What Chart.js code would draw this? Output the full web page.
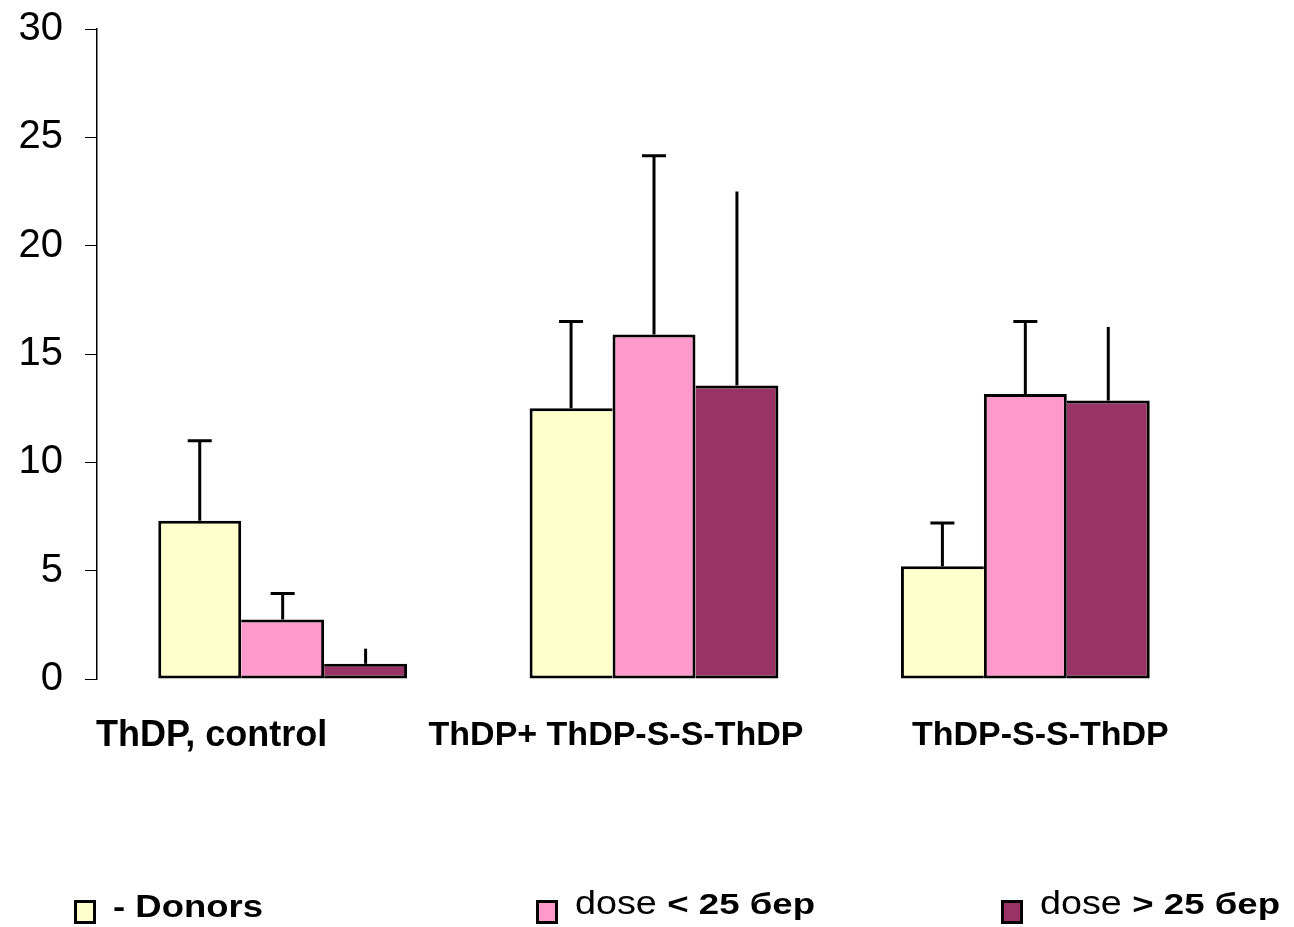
<!DOCTYPE html>
<html>
<head>
<meta charset="utf-8">
<script src="https://cdn.jsdelivr.net/npm/chart.js@4.4.1/dist/chart.umd.min.js"></script>
<style>
  html, body { margin: 0; padding: 0; background: #fff; }
  #wrap { width: 1294px; height: 927px; }
</style>
</head>
<body>
<div id="wrap"><canvas id="grafico" width="1294" height="927"></canvas></div>
<script>
// dados
const categorias = ['ThDP, control', 'ThDP+ ThDP-S-S-ThDP', 'ThDP-S-S-ThDP'];

const donors = [7.3, 12.5, 5.2];
const donorsErr = [3.7, 4.0, 2.0];

const doseMenor = [2.75, 15.9, 13.15];
const doseMenorErr = [1.2, 8.25, 3.35];

const doseMaior = [0.7, 13.55, 12.85];
const doseMaiorErr = [0.7, 8.95, 3.4];

const yMin = 0;
const yMax = 30;
const yPasso = 5;

// legenda: parte normal + parte em negrito
const legendaNormal = ['', 'dose ', 'dose '];
const legendaNegrito = ['- Donors', '< 25 бер', '> 25 бер'];

const FONTE = '"Liberation Sans", Arial, sans-serif';

// borda de 3px sem dobrar nas barras encostadas
function bordas(ctx) {
    var ds = ctx.chart.data.datasets;
    var i = ctx.datasetIndex;
    var j = ctx.dataIndex;
    var v = ds[i].data[j];
    var esq = 3, dir = 3;
    if (i > 0 && ds[i - 1].data[j] >= v) esq = 0;
    if (i < ds.length - 1 && ds[i + 1].data[j] > v) dir = 0;
    return { top: 3, bottom: 3, left: esq, right: dir };
}

// texto esticado na horizontal (a legenda original está mais larga)
function textoLargo(ctx, txt, x, y, fonte, esc) {
    ctx.save();
    ctx.font = fonte;
    ctx.translate(x, y);
    ctx.scale(esc, 1);
    ctx.fillText(txt, 0, 0);
    var w = ctx.measureText(txt).width * esc;
    ctx.restore();
    return w;
}

const barrasErro = {
    id: 'barrasErro',
    afterDatasetsDraw(chart) {
        const ctx = chart.ctx;
        const y = chart.scales.y;
        ctx.save();
        ctx.strokeStyle = '#000';
        ctx.lineWidth = 3;
        chart.data.datasets.forEach(function (ds, i) {
            const meta = chart.getDatasetMeta(i);
            meta.data.forEach(function (bar, j) {
                const topo = y.getPixelForValue(ds.data[j] + ds.erros[j]);
                ctx.beginPath();
                ctx.moveTo(bar.x, bar.y);
                ctx.lineTo(bar.x, topo);
                if (ds.comCapa) {
                    ctx.moveTo(bar.x - 12, topo);
                    ctx.lineTo(bar.x + 12, topo);
                }
                ctx.stroke();
            });
        });
        ctx.restore();
    }
};

const rotulosX = {
    id: 'rotulosX',
    afterDraw(chart) {
        const ctx = chart.ctx;
        const x = chart.scales.x;
        const desloc = [-71, -38, 15];
        const tam = [36, 34, 34];
        const base = [746, 745, 745];
        ctx.save();
        ctx.fillStyle = '#000';
        ctx.textAlign = 'center';
        ctx.textBaseline = 'alphabetic';
        categorias.forEach(function (c, i) {
            ctx.font = 'bold ' + tam[i] + 'px ' + FONTE;
            ctx.fillText(c, x.getPixelForValue(i) + desloc[i], base[i]);
        });
        ctx.restore();
    }
};

const legenda = {
    id: 'legenda',
    afterDraw(chart) {
        const ctx = chart.ctx;
        const caixaX = [74, 536, 1001];
        const base = [917, 914, 914];
        ctx.save();
        ctx.textBaseline = 'alphabetic';
        chart.data.datasets.forEach(function (ds, i) {
            const bx = caixaX[i];
            ctx.fillStyle = '#000';
            ctx.fillRect(bx, 900, 22, 24);
            ctx.fillStyle = ds.backgroundColor;
            ctx.fillRect(bx + 3, 903, 16, 18);
            ctx.fillStyle = '#000';
            let tx = bx + 39;
            if (legendaNormal[i]) {
                tx += textoLargo(ctx, legendaNormal[i], tx, base[i], '34px ' + FONTE, 1.11);
                textoLargo(ctx, legendaNegrito[i], tx, base[i], 'bold 30px ' + FONTE, 1.22);
            } else {
                textoLargo(ctx, legendaNegrito[i], tx, base[i], 'bold 32px ' + FONTE, 1.14);
            }
        });
        ctx.restore();
    }
};

const grafico = new Chart(document.getElementById('grafico'), {
    type: 'bar',
    data: {
        labels: categorias,
        datasets: [
            {
                label: legendaNegrito[0],
                data: donors,
                erros: donorsErr,
                comCapa: true,
                backgroundColor: '#FFFFCC',
                borderColor: '#000',
                borderWidth: bordas,
                borderSkipped: false
            },
            {
                label: legendaNormal[1] + legendaNegrito[1],
                data: doseMenor,
                erros: doseMenorErr,
                comCapa: true,
                backgroundColor: '#FF99CC',
                borderColor: '#000',
                borderWidth: bordas,
                borderSkipped: false
            },
            {
                label: legendaNormal[2] + legendaNegrito[2],
                data: doseMaior,
                erros: doseMaiorErr,
                comCapa: false,
                backgroundColor: '#993366',
                borderColor: '#000',
                borderWidth: bordas,
                borderSkipped: false
            }
        ]
    },
    options: {
        responsive: false,
        animation: false,
        events: [],
        categoryPercentage: 0.67,
        barPercentage: 1.0,
        layout: {
            padding: { left: 0, top: 29, right: 83, bottom: 248 }
        },
        plugins: {
            legend: { display: false },
            tooltip: { enabled: false }
        },
        scales: {
            x: {
                display: false
            },
            y: {
                min: yMin,
                max: yMax,
                afterFit: function (scale) {
                    scale.width = 97;
                    scale.paddingTop = 0;
                    scale.paddingBottom = 0;
                },
                ticks: {
                    stepSize: yPasso,
                    color: '#000',
                    padding: 22,
                    font: { family: FONTE, size: 40 }
                },
                grid: {
                    drawOnChartArea: false,
                    drawTicks: true,
                    tickLength: 12,
                    color: '#000',
                    lineWidth: 1
                },
                border: { display: true, color: '#000', width: 1.5 }
            }
        }
    },
    plugins: [barrasErro, rotulosX, legenda]
});
</script>
</body>
</html>
